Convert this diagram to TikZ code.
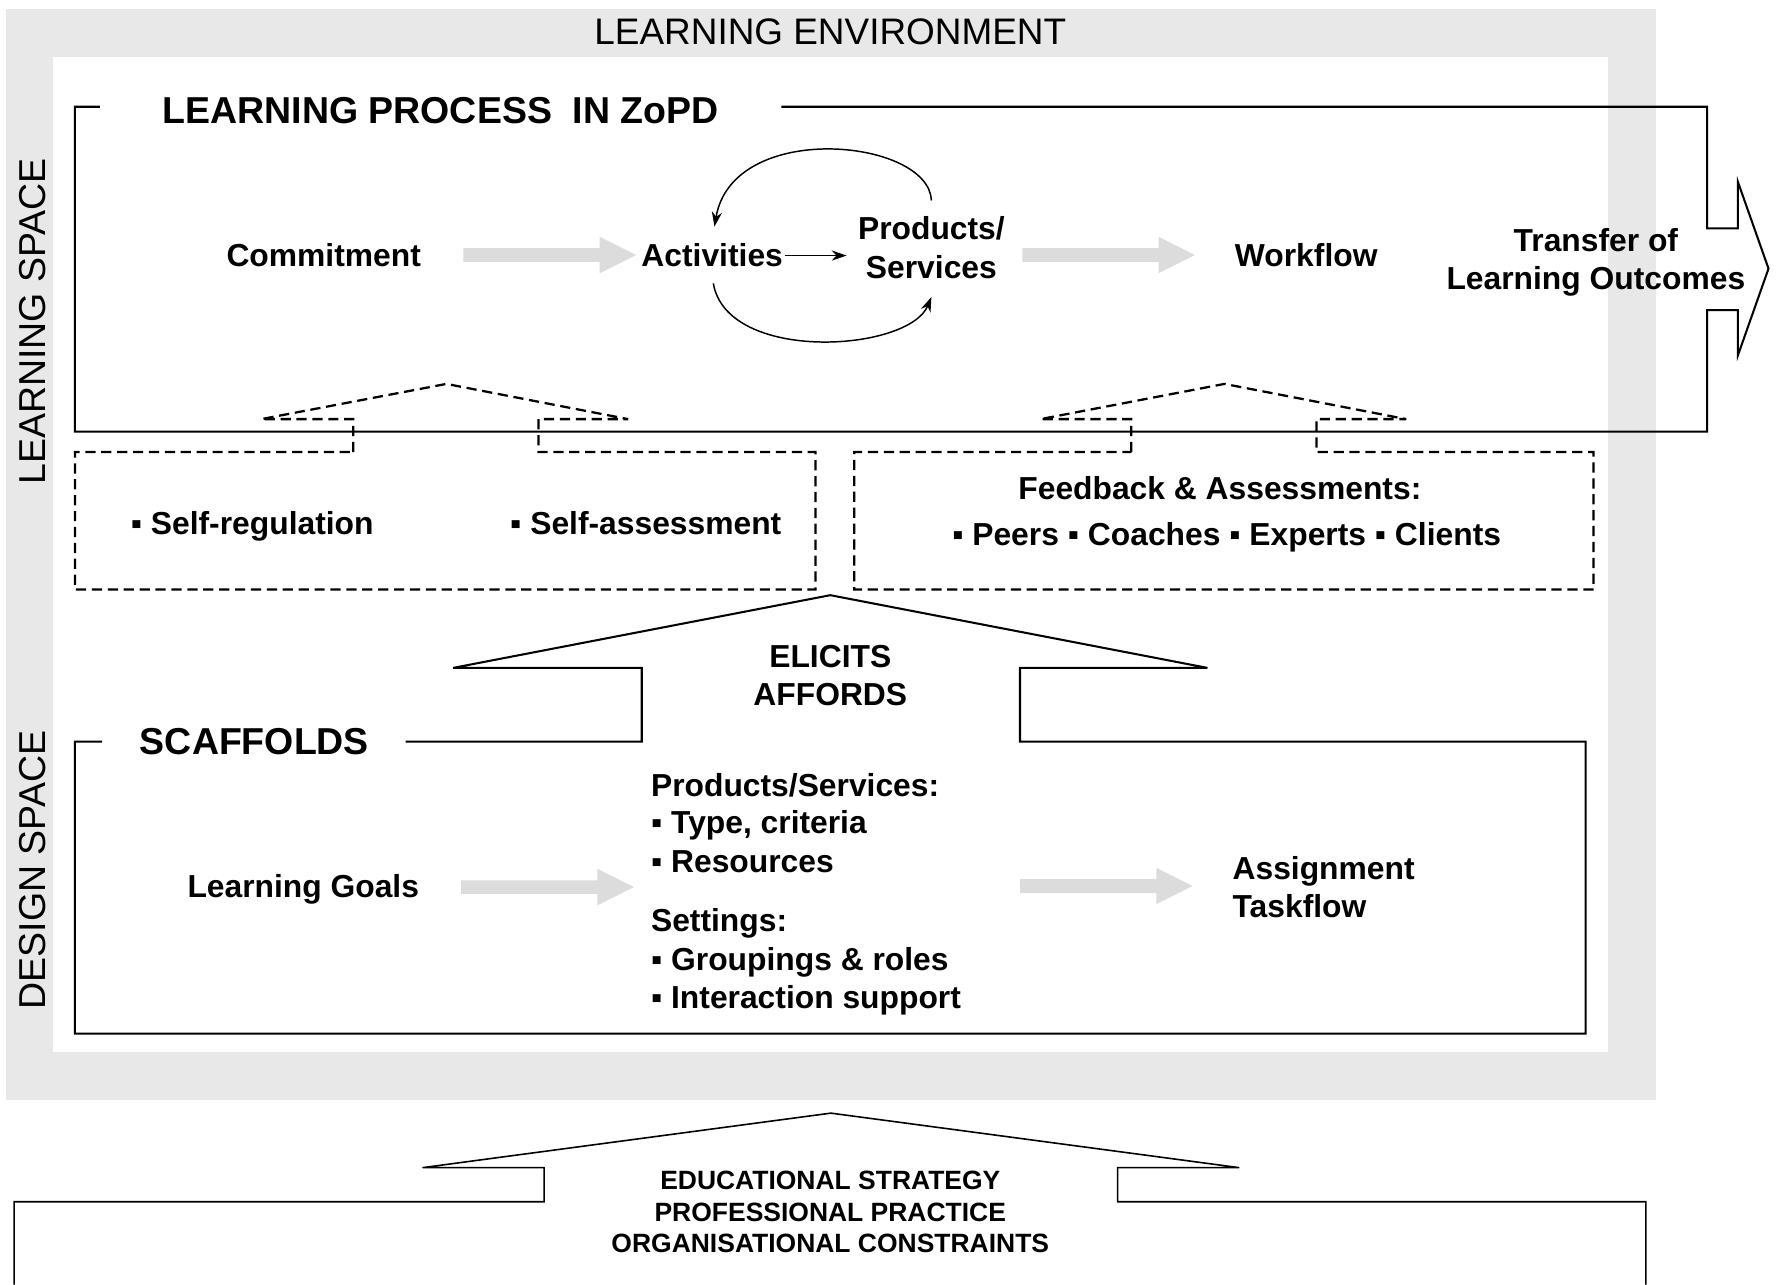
\documentclass[tikz,border=0pt]{standalone}
\usepackage{fontspec}
\setmainfont{Liberation Sans}
\usetikzlibrary{arrows.meta}
\definecolor{envgray}{HTML}{E8E8E8}
\definecolor{arrgray}{HTML}{DCDCDC}
\begin{document}
\begin{tikzpicture}[x=1pt,y=-1pt,
  txt/.style={inner sep=0pt, font=\fontsize{28}{34}\selectfont\bfseries},
  ttl/.style={inner sep=0pt, font=\fontsize{33}{40}\selectfont\bfseries},
  side/.style={inner sep=0pt, font=\fontsize{33}{40}\selectfont, rotate=90, anchor=base},
  btxt/.style={inner sep=0pt, font=\fontsize{23.3}{28}\selectfont\bfseries, anchor=base},
  solidbox/.style={line width=1.8pt, line join=miter},
  dashbox/.style={line width=2pt, dash pattern=on 9pt off 5pt},
  blk/.style={-{Stealth[length=13pt,width=9pt]}, line width=1.3pt},
  pics/garrow/.style={code={\fill[arrgray] (0,-6) -- (120,-6) -- (120,-16) -- (152,0) -- (120,16) -- (120,6) -- (0,6) -- cycle;}}
]
\useasboundingbox (0,0) rectangle (1568,1131);
% environment
\fill[envgray] (5,8) rectangle (1458,968);
\fill[white] (47,50) rectangle (1416,926);
\node[anchor=base, inner sep=0pt, font=\fontsize{32.5}{38}\selectfont] (env) at (731,39) {LEARNING ENVIRONMENT};
\node[side] (ls) at (40,283) {LEARNING SPACE};
\node[side] (ds) at (40,766) {DESIGN SPACE};

% learning process box with transfer arrow
\draw[solidbox] (688,94) -- (1503,94) -- (1503,201) -- (1530,201) -- (1530,160) -- (1557,236.5) -- (1530,313) -- (1530,273) -- (1503,273) -- (1503,380) -- (66,380) -- (66,94) -- (88,94);
\node[ttl, anchor=base west] (lp) at (143,109) {LEARNING PROCESS\ \ IN ZoPD};

\node[txt, anchor=base] (com) at (285,235) {Commitment};
\node[txt, anchor=base] (act) at (627,235) {Activities};
\node[txt, align=center] (prod) at (820,218) {Products/\\Services};
\node[txt, anchor=base] (wf) at (1150,235) {Workflow};
\node[txt, align=center] (tr) at (1405,231) {Transfer of\\Learning Outcomes};

\pic at (408,224.5) {garrow};
\pic at (900,224.5) {garrow};

\draw[blk] ([xshift=2pt]act.east) -- ([xshift=-10pt]act.east -| prod.west);
\draw[blk] ([yshift=14pt]prod.north) .. controls (818,122) and (645,105) .. ([xshift=2pt,yshift=15pt]act.north);
\draw[blk] ([xshift=1pt,yshift=-14pt]act.south) .. controls (640,320) and (800,310) .. ([yshift=-16pt]prod.south);

% dashed support boxes
\draw[dashbox] (311,398) -- (311,369) -- (230,369) -- (393,338) -- (553,369) -- (474,369) -- (474,398) -- (718,398) -- (718,519) -- (66,519) -- (66,398) -- cycle;
\draw[dashbox] (996,398) -- (996,369) -- (916,369) -- (1078,338) -- (1238,369) -- (1159,369) -- (1159,398) -- (1403,398) -- (1403,519) -- (752,519) -- (752,398) -- cycle;

\node[txt, anchor=base west] (sr) at (115,471) {▪ Self-regulation};
\node[txt, anchor=base west] (sa) at (449,471) {▪ Self-assessment};
\node[txt, anchor=base] (fb) at (1074,440) {Feedback \& Assessments:};
\node[txt, anchor=base] (pe) at (1080,480) {▪ Peers ▪ Coaches ▪ Experts ▪ Clients};

% elicits arrow and scaffolds box
\draw[solidbox] (357,653) -- (565,653) -- (565,588) -- (399,588) -- (731,524) -- (1063,588) -- (898,588) -- (898,653) -- (1396,653) -- (1396,910) -- (66,910) -- (66,653) -- (90,653);
\node[txt, anchor=base] (el) at (731,588) {ELICITS};
\node[txt, anchor=base] (af) at (731,621) {AFFORDS};
\node[ttl, anchor=base west] (sc) at (123,664) {SCAFFOLDS};

\node[txt, anchor=base] (lg) at (267,790) {Learning Goals};
\pic at (406,781) {garrow};
\pic at (898,780) {garrow};
\node[txt, anchor=base west] (p1) at (573,701) {Products/Services:};
\node[txt, anchor=base west] (p2) at (573,734) {▪ Type, criteria};
\node[txt, anchor=base west] (p3) at (573,768) {▪ Resources};
\node[txt, anchor=base west] (p4) at (573,820) {Settings:};
\node[txt, anchor=base west] (p5) at (573,854) {▪ Groupings \& roles};
\node[txt, anchor=base west] (p6) at (573,888) {▪ Interaction support};
\node[txt, anchor=base west] (as) at (1085,774) {Assignment};
\node[txt, anchor=base west] (tf) at (1085,808) {Taskflow};

% bottom arrow
\draw[line width=1.4pt] (12.5,1131) -- (12.5,1058) -- (479,1058) -- (479,1028) -- (372,1028) -- (731.5,980) -- (1091,1028) -- (984,1028) -- (984,1058) -- (1449,1058) -- (1449,1131);
\node[btxt] (b1) at (731,1047) {EDUCATIONAL STRATEGY};
\node[btxt] (b2) at (731,1075) {PROFESSIONAL PRACTICE};
\node[btxt] (b3) at (731,1103) {ORGANISATIONAL CONSTRAINTS};
\end{tikzpicture}
\end{document}
